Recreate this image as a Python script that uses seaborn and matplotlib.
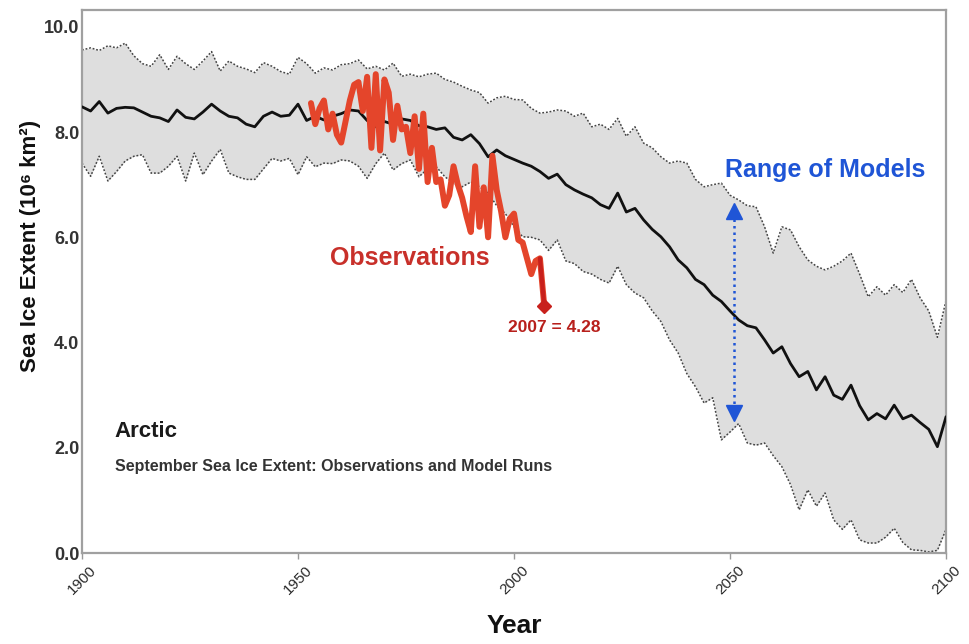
import numpy as np
import pandas as pd
import matplotlib
matplotlib.use("Agg")
import matplotlib.pyplot as plt
import seaborn as sns

# model years (every 2 years)
model_years = list(range(1900, 2101, 2))

model_mean = [
    8.48, 8.40, 8.58, 8.36, 8.45, 8.47, 8.46, 8.38, 8.30, 8.27,
    8.20, 8.42, 8.28, 8.25, 8.38, 8.53, 8.40, 8.30, 8.27, 8.15,
    8.10, 8.30, 8.38, 8.30, 8.32, 8.53, 8.22, 8.30, 8.23, 8.30,
    8.35, 8.42, 8.40, 8.22, 8.10, 8.20, 8.15, 8.25, 8.22, 8.12,
    8.10, 8.05, 8.08, 7.90, 7.85, 7.95, 7.78, 7.53, 7.66, 7.55,
    7.48, 7.41, 7.35, 7.25, 7.12, 7.20, 7.00, 6.90, 6.82, 6.75,
    6.62, 6.55, 6.84, 6.48, 6.55, 6.33, 6.15, 6.01, 5.82, 5.57,
    5.42, 5.20, 5.10, 4.90, 4.78, 4.60, 4.43, 4.32, 4.28, 4.05,
    3.80, 3.92, 3.60, 3.35, 3.45, 3.10, 3.35, 3.00, 2.92, 3.19,
    2.80, 2.53, 2.65, 2.55, 2.81, 2.55, 2.62, 2.48, 2.35, 2.02,
    2.59,
]

model_upper = [
    9.56, 9.60, 9.55, 9.64, 9.60, 9.69, 9.45, 9.30, 9.25, 9.47,
    9.19, 9.44, 9.30, 9.19, 9.35, 9.53, 9.16, 9.35, 9.25, 9.20,
    9.13, 9.32, 9.25, 9.15, 9.10, 9.42, 9.30, 9.12, 9.22, 9.18,
    9.28, 9.30, 9.37, 9.20, 9.25, 9.18, 9.31, 9.06, 9.10, 9.05,
    9.10, 9.12, 9.00, 8.95, 8.87, 8.80, 8.75, 8.55, 8.65, 8.68,
    8.62, 8.61, 8.45, 8.36, 8.38, 8.42, 8.40, 8.30, 8.36, 8.10,
    8.15, 8.05, 8.26, 7.92, 8.10, 7.79, 7.70, 7.53, 7.41, 7.45,
    7.41, 7.10, 6.96, 7.00, 7.03, 6.80, 6.71, 6.60, 6.58, 6.20,
    5.70, 6.20, 6.14, 5.82, 5.57, 5.45, 5.38, 5.45, 5.55, 5.70,
    5.30, 4.87, 5.06, 4.90, 5.10, 4.95, 5.20, 4.85, 4.60, 4.10,
    4.80,
]

model_lower = [
    7.41, 7.16, 7.54, 7.07, 7.25, 7.45, 7.54, 7.57, 7.22, 7.22,
    7.35, 7.54, 7.07, 7.60, 7.19, 7.45, 7.67, 7.22, 7.15, 7.10,
    7.10, 7.30, 7.50, 7.45, 7.50, 7.19, 7.53, 7.34, 7.41, 7.40,
    7.47, 7.45, 7.35, 7.12, 7.40, 7.60, 7.28, 7.40, 7.47, 7.15,
    7.30, 7.34, 7.15, 7.03, 6.96, 7.05, 6.96, 6.84, 6.60, 6.45,
    6.20, 6.01, 6.00, 5.95, 5.75, 5.95, 5.55, 5.50, 5.35, 5.30,
    5.20, 5.13, 5.45, 5.10, 4.94, 4.85, 4.60, 4.40, 4.05, 3.80,
    3.41, 3.16, 2.85, 2.95, 2.15, 2.30, 2.46, 2.09, 2.05, 2.09,
    1.85, 1.64, 1.30, 0.82, 1.20, 0.89, 1.14, 0.63, 0.45, 0.63,
    0.25, 0.19, 0.19, 0.30, 0.47, 0.20, 0.06, 0.05, 0.02, 0.05,
    0.45,
]

# observed September extent 1953-2007
obs_years = list(range(1953, 2008))
obs_extent = [
    8.55, 8.15, 8.45, 8.60, 8.05, 8.35, 7.95, 7.80, 8.20, 8.60,
    8.90, 8.95, 8.40, 9.05, 7.70, 9.10, 7.65, 9.00, 8.75, 7.85,
    8.50, 8.05, 8.10, 7.60, 8.30, 7.30, 8.35, 7.05, 7.70, 7.05,
    7.10, 6.60, 6.80, 7.35, 7.00, 6.75, 6.40, 6.10, 7.35, 6.20,
    6.95, 6.00, 7.55, 6.90, 6.50, 6.00, 6.35, 6.45, 5.95, 5.90,
    5.60, 5.30, 5.55, 5.60, 4.70,
]

y_ticks = [0, 2, 4, 6, 8, 10]
x_ticks = [1900, 1950, 2000, 2050, 2100]

models = pd.DataFrame({"year": model_years, "mean": model_mean,
                       "upper": model_upper, "lower": model_lower})
obs = pd.DataFrame({"year": obs_years, "extent": obs_extent})

sns.set_style("white")
plt.rcParams["font.family"] = ["Liberation Sans", "DejaVu Sans"]

fig = plt.figure(figsize=(9.69, 6.44), dpi=100)
ax = fig.add_axes([0.0846, 0.1413, 0.8917, 0.8432])

# model range band
ax.fill_between(models["year"], models["lower"], models["upper"],
                color="#dedede", lw=0, zorder=1)
sns.lineplot(data=models, x="year", y="upper", ax=ax, color="#444444",
             lw=1.1, ls=(0, (1.2, 1.2)), zorder=2)
sns.lineplot(data=models, x="year", y="lower", ax=ax, color="#444444",
             lw=1.1, ls=(0, (1.2, 1.2)), zorder=2)
sns.lineplot(data=models, x="year", y="mean", ax=ax, color="#111111",
             lw=2.0, zorder=3)

# observations
sns.lineplot(data=obs, x="year", y="extent", ax=ax, color="#e4452b",
             lw=4.3, zorder=4)
ax.plot(obs["year"].iloc[-2:], obs["extent"].iloc[-2:], color="#c8201c",
        lw=3.0, zorder=5)
ax.plot(obs["year"].iloc[-1], obs["extent"].iloc[-1], marker="D",
        color="#c8201c", ms=7, zorder=6)

# range of models arrow
ax.plot([2051, 2051], [2.72, 6.45], color="#1f55d6", lw=1.8,
        ls=(0, (1, 1.6)), zorder=6)
ax.plot(2051, 6.5, marker="^", color="#1f55d6", ms=11, zorder=7)
ax.plot(2051, 2.67, marker="v", color="#1f55d6", ms=11, zorder=7)

ax.text(2072, 7.28, "Range of Models", color="#1f55d6", fontsize=18,
        fontweight="bold", ha="center", va="center")
ax.text(1975.8, 5.61, "Observations", color="#c8302a", fontsize=18,
        fontweight="bold", ha="center", va="center")
ax.text(2009.3, 4.28, "2007 = 4.28", color="#b8201c", fontsize=12.5,
        fontweight="bold", ha="center", va="center",
        family=["Liberation Sans Narrow", "Liberation Sans"])
ax.text(1907.6, 2.30, "Arctic", color="#1a1a1a", fontsize=16,
        fontweight="bold", ha="left", va="center")
ax.text(1907.6, 1.64, "September Sea Ice Extent: Observations and Model Runs",
        color="#333333", fontsize=11.5, fontweight="bold",
        ha="left", va="center")

ax.set_xlim(1900, 2100)
ax.set_ylim(0, 10.32)
ax.set_xticks(x_ticks)
ax.set_xticklabels([str(t) for t in x_ticks], rotation=45, ha="center",
                   fontsize=11, color="#2a2a2a")
ax.set_yticks(y_ticks)
ax.set_yticklabels([f"{t:.1f}" for t in y_ticks], fontsize=13,
                   fontweight="bold", color="#333333")
ax.tick_params(axis="x", length=4, width=1, color="#999999", pad=3,
               bottom=True)
ax.tick_params(axis="y", length=0, pad=2)

ax.set_xlabel("Year", fontsize=19, fontweight="bold", color="#111111")
ax.set_ylabel("Sea Ice Extent (10\u2076 km\u00b2)", fontsize=16,
              fontweight="bold", color="#111111")
ax.xaxis.set_label_coords(0.5, -0.112)
ax.yaxis.set_label_coords(-0.047, 0.565)

for side in ["left", "bottom", "top", "right"]:
    ax.spines[side].set_visible(True)
    ax.spines[side].set_color("#a0a0a0")
    ax.spines[side].set_linewidth(1.6)

fig.savefig("out.png", dpi=100)
